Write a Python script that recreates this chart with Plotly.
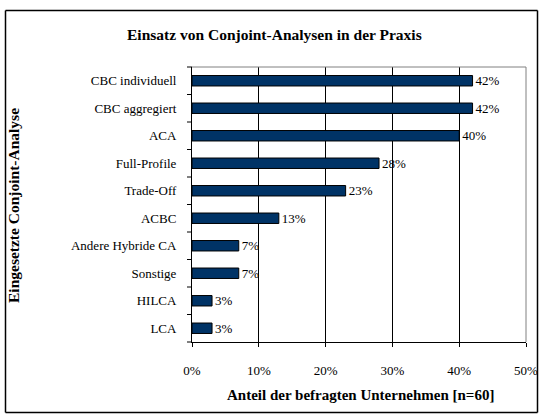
import plotly.graph_objects as go

categories = ["CBC individuell", "CBC aggregiert", "ACA", "Full-Profile", "Trade-Off",
              "ACBC", "Andere Hybride CA", "Sonstige", "HILCA", "LCA"]
values = [42, 42, 40, 28, 23, 13, 7, 7, 3, 3]
tick_vals = [0, 10, 20, 30, 40, 50]
tick_text = ["0%", "10%", "20%", "30%", "40%", "50%"]

FONT = "Liberation Serif"

fig = go.Figure(go.Bar(
    y=categories, x=values, orientation="h",
    marker=dict(color="#003366", line=dict(color="#000000", width=1)),
    width=0.38,
    text=[f"{v}%" for v in values], textposition="outside",
    constraintext="none",
    textfont=dict(family=FONT, size=13, color="#000000"),
    cliponaxis=False,
))

L, R, T, B = 192, 13, 67, 72
W, H = 539, 414
pw, ph = W - L - R, H - T - B

def px_x(x):
    return (x - L) / pw

def px_y(y):
    return (H - B - y) / ph

fig.update_layout(
    width=W, height=H, autosize=False,
    margin=dict(l=L, r=R, t=T, b=B, pad=0, autoexpand=False),
    paper_bgcolor="white", plot_bgcolor="white",
    showlegend=False,
    font=dict(family=FONT, size=13, color="#000000"),
    xaxis=dict(
        range=[0, 50], tickvals=tick_vals, ticktext=tick_text,
        showgrid=True, gridcolor="#000000", gridwidth=1,
        showline=True, linecolor="#000000", linewidth=1,
        ticks="outside", ticklen=4, tickcolor="#000000",
        tickfont=dict(family=FONT, size=13), automargin=False,
        ticklabelstandoff=12,
        zeroline=False, fixedrange=True,
    ),
    yaxis=dict(
        autorange="reversed", categoryorder="array", categoryarray=categories,
        showline=True, linecolor="#000000", linewidth=1,
        ticks="", tickfont=dict(family=FONT, size=13), automargin=False,
        ticklabelstandoff=12,
        showgrid=False, zeroline=False, fixedrange=True,
    ),
)

# titles as annotations positioned in pixels
fig.add_annotation(text="<b>Einsatz von Conjoint-Analysen in der Praxis</b>",
                   xref="paper", yref="paper", x=px_x(274), y=px_y(35),
                   xanchor="center", yanchor="middle", showarrow=False,
                   font=dict(family=FONT, size=15.5))
fig.add_annotation(text="<b>Anteil der befragten Unternehmen [n=60]</b>",
                   xref="paper", yref="paper", x=px_x(360), y=px_y(395),
                   xanchor="center", yanchor="middle", showarrow=False,
                   font=dict(family=FONT, size=15))
fig.add_annotation(text="<b>Eingesetzte Conjoint-Analyse</b>",
                   xref="paper", yref="paper", x=px_x(14), y=px_y(206),
                   xanchor="center", yanchor="middle", showarrow=False,
                   textangle=-90, font=dict(family=FONT, size=15.5))

# y-axis tick marks at category boundaries
for i in range(len(categories) + 1):
    yb = px_y(T + i * ph / len(categories))
    fig.add_shape(type="line", xref="paper", yref="paper",
                  x0=px_x(187), x1=0, y0=yb, y1=yb,
                  line=dict(color="#000000", width=1))

# gray plot border top/right
fig.add_shape(type="line", xref="paper", yref="paper", x0=0, x1=1, y0=1, y1=1,
              line=dict(color="#808080", width=1))
fig.add_shape(type="line", xref="paper", yref="paper", x0=1, x1=1, y0=0, y1=1,
              line=dict(color="#808080", width=1))

# outer chart border as four lines
bx0, bx1, by0, by1 = px_x(5.5), px_x(537.5), px_y(412.5), px_y(10.5)
for (xa, ya, xb, yb) in [(bx0, by1, bx1, by1), (bx0, by0, bx1, by0),
                         (bx0, by0, bx0, by1), (bx1, by0, bx1, by1)]:
    fig.add_shape(type="line", xref="paper", yref="paper",
                  x0=xa, y0=ya, x1=xb, y1=yb,
                  line=dict(color="#000000", width=1.5))

fig.write_html(
    "out.html",
    config={"displayModeBar": False, "responsive": False},
    post_script=("document.documentElement.style.overflow='hidden';"
                 "document.body.style.overflow='hidden';"
                 "document.body.style.margin='0';document.body.style.padding='0';"),
)
